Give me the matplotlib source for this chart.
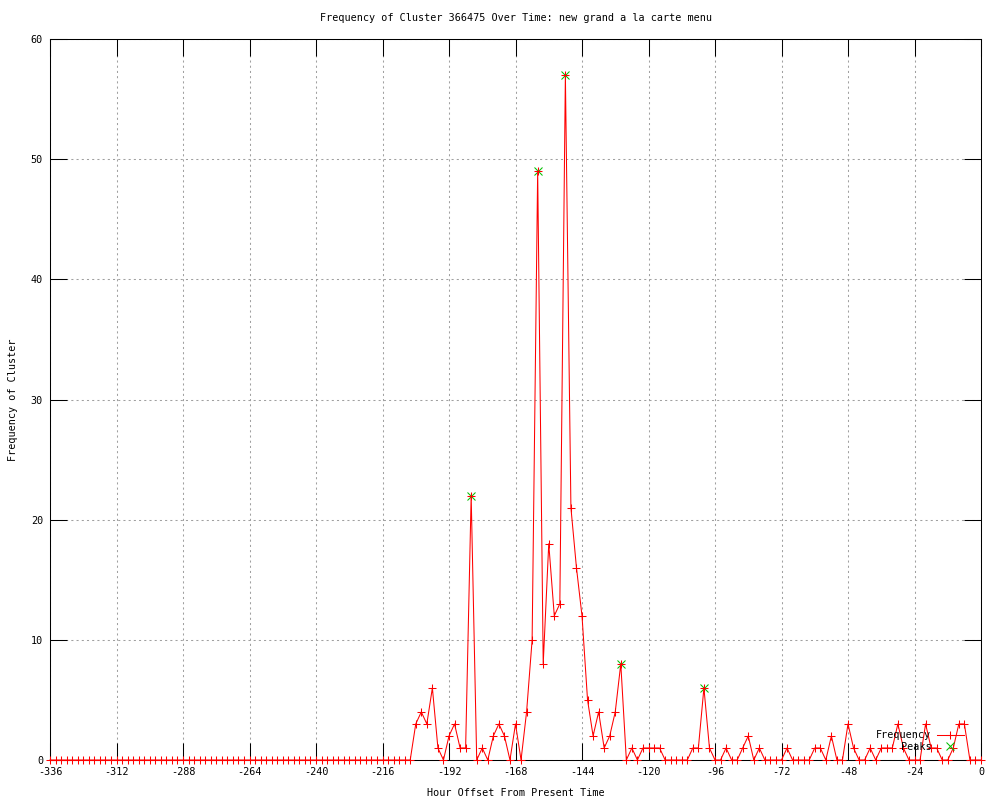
import matplotlib
matplotlib.use("Agg")
import matplotlib.pyplot as plt
from matplotlib.lines import Line2D

# Hour offsets, one sample every 2 hours
hours = list(range(-336, 1, 2))

# Frequency of cluster per sample
counts = [
    0, 0, 0, 0, 0, 0, 0, 0, 0, 0, 0, 0, 0, 0, 0, 0, 0, 0, 0, 0, 0, 0,
    0, 0, 0, 0, 0, 0, 0, 0, 0, 0, 0, 0, 0, 0, 0, 0, 0, 0, 0, 0, 0, 0,
    0, 0, 0, 0, 0, 0, 0, 0, 0, 0, 0, 0, 0, 0, 0, 0, 0, 0, 0, 0, 0, 0,
    3, 4, 3, 6, 1, 0, 2, 3, 1, 1, 22, 0, 1, 0,
    2, 3, 2, 0, 3, 0, 4, 10, 49, 8, 18, 12, 13, 57, 21, 16, 12, 5, 2, 4,
    1, 2, 4, 8, 0, 1, 0, 1, 1, 1, 1, 0, 0, 0, 0, 0, 1, 1, 6, 1,
    0, 0, 1, 0, 0, 1, 2, 0, 1, 0, 0, 0, 0, 1, 0, 0, 0, 0, 1, 1,
    0, 2, 0, 0, 3, 1, 0, 0, 1, 0, 1, 1, 1, 3, 1, 0, 0, 0, 3, 1,
    1, 0, 0, 1, 3, 3, 0, 0, 0,
]

# Detected peaks
peak_hours = [-184, -160, -150, -130, -100]
peak_counts = [22, 49, 57, 8, 6]

xticks = list(range(-336, 1, 24))
yticks = [0, 10, 20, 30, 40, 50, 60]

font = "DejaVu Sans Mono"
fs = 7.3
red = "#ff0000"
green = "#00c000"

fig = plt.figure(figsize=(10, 8), dpi=100)
ax = fig.add_axes([0.05, 0.05, 0.931, 0.9012])

ax.plot(peak_hours, peak_counts, linestyle="none", marker="x", color=green,
        markersize=5.5, markeredgewidth=0.75, zorder=3)
ax.plot(hours, counts, color=red, linewidth=0.75, marker="+", markersize=6,
        markeredgewidth=0.75, zorder=4, clip_on=False)

ax.set_xlim(-336, 0)
ax.set_ylim(0, 60)
ax.set_xticks(xticks)
ax.set_yticks(yticks)
ax.set_xticklabels([str(t) for t in xticks], fontfamily=font, fontsize=fs)
ax.set_yticklabels([str(t) for t in yticks], fontfamily=font, fontsize=fs)
ax.tick_params(direction="in", length=12, width=0.75, top=True, right=True,
               pad=5, colors="black")
ax.grid(True, color="#a0a0a0", linestyle=(0, (2, 3)), linewidth=0.75)
ax.set_axisbelow(True)
for sp in ax.spines.values():
    sp.set_linewidth(0.75)

ax.set_title("Frequency of Cluster 366475 Over Time: new grand a la carte menu",
             fontfamily=font, fontsize=fs, pad=13)
ax.set_xlabel("Hour Offset From Present Time", fontfamily=font, fontsize=fs,
              labelpad=8)
ax.set_ylabel("Frequency of Cluster", fontfamily=font, fontsize=fs,
              labelpad=9)

handles = [
    Line2D([], [], color=red, linewidth=0.75, marker="+", markersize=6,
           markeredgewidth=0.75),
    Line2D([], [], color=green, linestyle="none", marker="x", markersize=5.5,
           markeredgewidth=0.75),
]
ax.legend(handles, ["Frequency", "Peaks"], loc="lower right",
          bbox_to_anchor=(0.99, 0.0), frameon=False, markerfirst=False,
          numpoints=1, handlelength=2.6, handletextpad=0.6, labelspacing=0.15,
          borderaxespad=0.4, prop={"family": font, "size": fs})

fig.savefig("out.png", dpi=100, facecolor="white")
